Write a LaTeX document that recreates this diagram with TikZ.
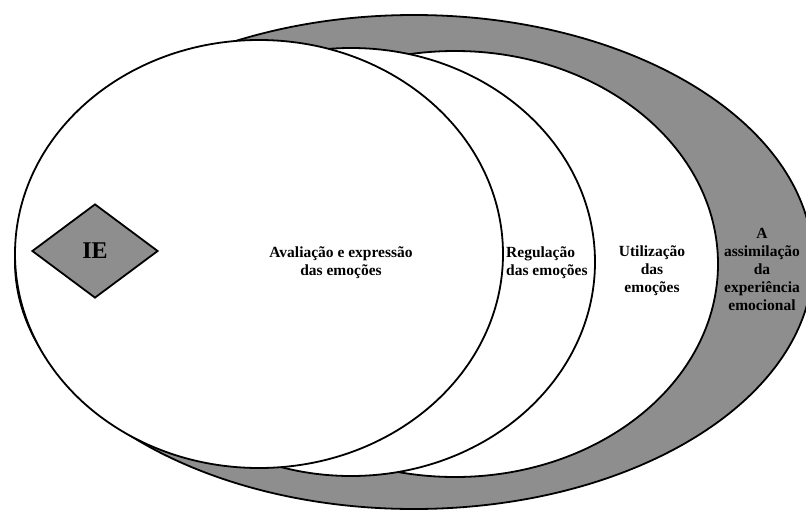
\documentclass[tikz,border=0pt]{standalone}
\usepackage{fontspec}
\setmainfont{Liberation Serif}
\usetikzlibrary{shapes.geometric}
\definecolor{bandgray}{RGB}{142,142,142}
\begin{document}
\begin{tikzpicture}[x=1pt,y=-1pt,
  ring/.style={draw=black,line width=1.8pt},
  lbl/.style={font=\bfseries\fontsize{15.5}{18}\selectfont,inner sep=0pt},
]
\useasboundingbox (0,0) rectangle (806,509);
\begin{scope}
  \clip (0,0) rectangle (806,509);
  \fill[white] (0,0) rectangle (806,509);
  % outermost shaded ring, then the three nested white ellipses on top
  \draw[ring,fill=bandgray] (414,262) ellipse [x radius=399pt, y radius=247pt];
  \draw[ring,fill=white] (455,264) ellipse [x radius=263pt, y radius=213pt];
  \draw[ring,fill=white] (351,262) ellipse [x radius=244pt, y radius=214pt];
  \draw[ring,fill=white] (259,254) ellipse [x radius=244pt, y radius=214pt];
\end{scope}

\node[diamond,draw=black,line width=1.8pt,fill=bandgray,aspect=1.34,
      minimum width=126pt,minimum height=94pt,inner sep=0pt,
      font=\bfseries\fontsize{24}{24}\selectfont] (ie) at (95,251) {IE};

\node[lbl,align=center] (aval) at (341,263) {Avaliação e expressão\\das emoções};
\node[lbl,align=left,anchor=west] (reg) at (506,263) {Regulação\\das emoções};
\node[lbl,align=center] (util) at (652,271) {Utilização\\das\\emoções};
\node[lbl,align=center] (assim) at (762,269) {A\\assimilação\\da\\experiência\\emocional};
\end{tikzpicture}
\end{document}
